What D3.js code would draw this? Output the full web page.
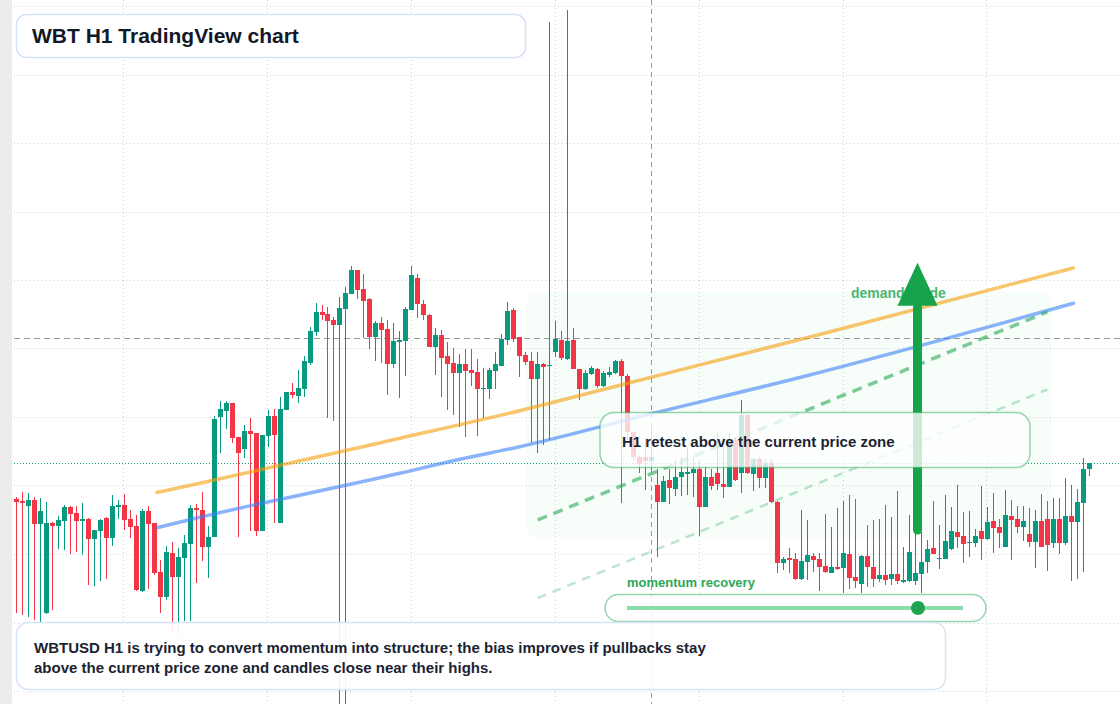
<!DOCTYPE html>
<html>
<head>
<meta charset="utf-8">
<script src="https://cdn.jsdelivr.net/npm/d3@7"></script>
<style>
  body { margin: 0; background: #fff; }
  svg { display: block; font-family: "Liberation Sans", Arial, Helvetica, sans-serif; }
</style>
</head>
<body>
<svg></svg>
<script>
// WBTUSD H1 candles (oldest first)
var opens = [
  50.13, 49.9, 49.4, 50.0, 47.6, 38.67, 47.7, 47.43, 47.93, 49.3,
  48.7, 48.03, 48.1, 46.1, 46.93, 48.2, 46.2, 49.43, 49.5, 48.1,
  47.43, 40.9, 48.9, 47.7, 42.8, 40.3, 44.7, 42.3, 44.2, 45.63,
  49.2, 49.0, 45.33, 46.33, 58.33, 58.93, 59.7, 56.3, 55.13, 56.9,
  56.7, 46.93, 56.43, 58.4, 47.73, 59.03, 60.8, 60.43, 61.13, 63.73,
  66.83, 68.8, 68.6, 68.0, 67.53, 69.1, 70.63, 73.0, 71.1, 70.1,
  66.33, 67.7, 67.1, 63.63, 65.83, 65.93, 69.0, 72.2, 69.6, 68.5,
  65.33, 66.5, 64.4, 63.7, 62.73, 63.63, 63.03, 62.8, 61.13, 61.13,
  62.93, 63.43, 65.97, 69.0, 66.27, 64.53, 63.93, 62.13, 63.63, 63.43,
  64.83, 65.97, 64.13, 65.97, 63.13, 61.13, 62.63, 63.13, 61.43, 62.53,
  62.73, 63.9, 62.4, 56.83, 54.33, 54.3, 53.93, 51.5, 49.83, 52.0,
  51.13, 52.33, 52.73, 52.73, 53.13, 49.33, 52.33, 52.73, 51.63, 51.33,
  56.0, 52.67, 58.5, 52.6, 54.13, 52.23, 53.67, 49.83, 43.67, 44.2,
  44.13, 42.07, 43.83, 44.4, 44.1, 43.4, 42.73, 43.3, 43.23, 44.6,
  42.27, 41.63, 44.4, 43.3, 42.13, 42.5, 42.07, 42.6, 41.87, 41.93,
  41.93, 42.63, 43.83, 45.2, 44.07, 44.13, 45.13, 46.8, 46.4, 45.77,
  45.73, 46.9, 46.1, 47.9, 47.3, 45.33, 48.4, 48.1, 47.33, 46.6,
  45.83, 47.9, 48.1, 45.73, 48.1, 45.73, 48.4, 47.83, 49.73, 53.1
]
var highs = [
  50.33, 50.8, 50.7, 50.33, 50.2, 49.8, 47.83, 48.4, 49.5, 49.4,
  49.4, 49.7, 48.2, 47.0, 48.1, 48.3, 50.5, 50.0, 50.6, 49.0,
  48.5, 49.1, 49.4, 47.7, 44.0, 45.4, 45.8, 45.2, 46.5, 49.5,
  49.6, 50.77, 47.4, 58.43, 59.9, 59.9, 59.7, 56.3, 57.5, 58.2,
  56.7, 56.5, 59.0, 59.1, 60.3, 60.8, 61.7, 63.0, 64.4, 67.3,
  69.7, 69.47, 69.3, 68.3, 70.3, 71.3, 73.43, 73.0, 72.6, 70.2,
  67.9, 68.3, 68.0, 67.7, 66.9, 69.3, 73.4, 72.6, 70.0, 68.6,
  67.2, 67.0, 65.8, 65.23, 64.6, 65.1, 65.1, 64.1, 63.2, 63.23,
  64.8, 66.57, 69.8, 69.2, 66.3, 64.83, 64.77, 64.83, 63.73, 97.8,
  67.87, 66.87, 99.0, 67.23, 63.13, 63.0, 63.4, 63.2, 62.9, 63.33,
  64.0, 64.1, 62.6, 56.9, 54.5, 56.2, 57.2, 53.1, 52.4, 53.1,
  54.0, 54.3, 55.3, 54.33, 54.0, 53.3, 53.13, 56.9, 56.33, 56.7,
  56.33, 60.0, 58.6, 54.2, 54.33, 54.13, 54.13, 49.9, 44.33, 45.23,
  44.7, 49.0, 48.0, 44.67, 44.67, 48.6, 47.33, 49.2, 49.93, 50.53,
  50.07, 44.5, 47.5, 48.0, 48.1, 49.47, 48.33, 50.87, 45.33, 48.5,
  46.87, 46.83, 46.0, 49.87, 47.5, 50.53, 49.33, 51.5, 48.83, 48.9,
  47.1, 51.43, 49.33, 50.73, 48.1, 51.0, 50.0, 49.4, 49.4, 49.23,
  49.0, 50.6, 49.9, 50.17, 50.17, 52.2, 51.5, 51.1, 54.2, 53.7
]
var lows = [
  38.67, 38.5, 38.33, 38.0, 37.83, 38.6, 39.0, 45.1, 45.0, 44.6,
  44.77, 44.5, 41.5, 41.4, 41.9, 42.1, 45.4, 48.1, 47.0, 46.2,
  40.9, 40.8, 41.1, 42.5, 38.7, 40.0, 36.8, 36.5, 37.9, 37.9,
  41.73, 43.9, 42.23, 46.3, 54.73, 57.13, 55.73, 46.33, 54.23, 46.93,
  46.43, 46.9, 55.33, 47.67, 47.7, 59.03, 60.23, 59.73, 60.33, 63.53,
  66.43, 68.0, 58.23, 57.93, 29.6, 29.6, 70.63, 70.1, 66.23, 65.13,
  63.9, 63.73, 60.53, 63.17, 60.2, 62.4, 69.0, 68.2, 68.0, 65.3,
  62.5, 60.33, 59.0, 58.5, 57.33, 56.33, 61.43, 56.43, 58.2, 60.07,
  61.07, 63.4, 65.47, 65.83, 62.33, 63.5, 55.73, 54.67, 55.5, 56.0,
  64.3, 64.0, 64.0, 63.1, 60.0, 61.0, 62.5, 61.2, 61.3, 62.3,
  62.6, 49.7, 56.0, 54.0, 52.7, 51.0, 53.0, 44.33, 49.8, 49.6,
  50.4, 50.4, 50.5, 50.33, 46.43, 49.3, 51.0, 51.0, 50.2, 51.3,
  51.9, 50.7, 52.6, 50.93, 51.2, 51.2, 49.7, 42.67, 43.0, 42.67,
  42.0, 42.0, 42.0, 42.83, 40.93, 42.67, 42.7, 43.0, 40.67, 41.07,
  41.17, 40.67, 41.33, 41.33, 41.83, 41.5, 41.5, 41.6, 41.67, 41.83,
  41.5, 40.67, 42.67, 44.6, 43.13, 44.1, 45.0, 45.17, 43.73, 44.33,
  45.33, 44.0, 46.0, 44.73, 45.23, 45.3, 44.0, 46.67, 45.93, 45.3,
  43.23, 45.3, 42.93, 45.23, 44.57, 45.47, 41.93, 42.07, 42.83, 52.4
]
var closes = [
  49.83, 49.83, 50.0, 47.6, 48.9, 47.67, 47.43, 48.0, 49.3, 48.6,
  47.93, 48.1, 46.1, 47.0, 48.0, 46.2, 49.4, 49.47, 48.0, 47.3,
  41.0, 48.9, 47.6, 42.7, 40.3, 44.8, 42.3, 44.3, 45.7, 49.2,
  48.97, 45.33, 46.3, 58.1, 59.1, 59.7, 56.23, 54.73, 56.9, 56.63,
  46.93, 56.5, 58.4, 56.53, 59.1, 60.8, 60.53, 61.2, 63.9, 66.9,
  68.8, 68.53, 67.93, 67.53, 69.2, 70.7, 73.0, 71.03, 69.9, 66.33,
  67.7, 67.0, 63.63, 65.9, 66.0, 69.1, 72.5, 69.57, 68.5, 65.33,
  66.5, 64.23, 63.63, 62.73, 63.63, 62.93, 62.73, 61.13, 61.23, 63.03,
  63.63, 66.07, 68.9, 66.07, 64.43, 63.83, 62.13, 63.63, 63.33, 63.53,
  66.07, 64.23, 65.87, 63.13, 61.13, 62.73, 63.23, 61.43, 62.73, 62.83,
  63.93, 62.4, 56.8, 54.27, 53.57, 53.93, 54.27, 49.83, 51.9, 51.23,
  52.33, 52.8, 52.8, 53.13, 49.33, 52.33, 51.4, 51.63, 51.33, 55.83,
  52.0, 58.5, 52.67, 54.13, 52.23, 53.67, 49.83, 43.67, 44.13, 44.1,
  42.07, 43.87, 44.5, 44.0, 43.33, 42.83, 43.3, 43.1, 44.67, 42.23,
  41.93, 44.4, 43.3, 42.07, 42.5, 41.97, 42.6, 41.87, 42.0, 44.8,
  42.67, 43.77, 45.07, 44.63, 44.23, 45.9, 46.9, 46.3, 45.6, 45.83,
  46.4, 46.1, 47.8, 47.23, 46.73, 48.5, 48.0, 47.33, 47.9, 45.83,
  47.9, 45.33, 45.53, 48.1, 45.73, 48.4, 47.83, 49.8, 53.1, 53.67
]

// overlay lines (bar index, price)
var slowLineIdx = [23.55, 30.7, 64.05, 84.05, 100.9, 135.05, 176.4]
var slowLineVal = [50.75, 51.67, 56.17, 58.93, 61.5, 66.7, 73.2]
var fastLineIdx = [23.55, 30.7, 64.05, 73.5, 84.05, 104.05, 132.4, 176.4]
var fastLineVal = [47.23, 48.27, 52.67, 54.0, 55.33, 58.33, 62.5, 69.67]
var channelIdx = [87.05, 172.05]
var channelTop = [48.0, 68.8]
var channelLow = [40.2, 61.05]

// grid, levels, zone
var gridPrices = [99.4, 92.55, 85.7, 78.85, 72.0, 65.15, 58.3, 51.45, 44.6, 37.75, 30.9]
var dayStarts = [17.9, 41.9, 65.9, 89.9, 113.9, 137.9, 161.9]
var lastPrice = 53.7
var crossPrice = 66.2
var crossIdx = 105.88
var zoneIdx = [85.05, 172.7]
var zonePrice = [46.15, 70.8]
var arrowIdx = 150.4
var arrowFrom = 47.0
var arrowTo = 73.73
var momentum = 0.866

var W = 1120, H = 704
var green = "#089981", red = "#f23645"

var svg = d3.select("svg")
    .attr("width", W)
    .attr("height", H)

var x = d3.scaleLinear().domain([0, closes.length - 1]).range([15.7, 1089])
var y = d3.scaleLinear().domain([30, 100]).range([700, 0])

svg.append("rect").attr("width", W).attr("height", H).attr("fill", "#fff")
svg.append("rect").attr("width", 12).attr("height", H).attr("fill", "#ececec")

// grid
var grid = svg.append("g").attr("stroke", "#cfd2d6").attr("stroke-dasharray", "1 3")
grid.selectAll(".h").data(gridPrices).enter().append("line")
    .attr("x1", 14).attr("x2", W)
    .attr("y1", d => Math.round(y(d)) + 0.5).attr("y2", d => Math.round(y(d)) + 0.5)
grid.selectAll(".v").data(dayStarts).enter().append("line")
    .attr("y1", 0).attr("y2", H)
    .attr("x1", d => Math.round(x(d)) + 0.5).attr("x2", d => Math.round(x(d)) + 0.5)

// demand zone
svg.append("rect")
    .attr("x", x(zoneIdx[0])).attr("y", y(zonePrice[1]))
    .attr("width", x(zoneIdx[1]) - x(zoneIdx[0]))
    .attr("height", y(zonePrice[0]) - y(zonePrice[1]))
    .attr("rx", 14)
    .attr("fill", "#22c55e").attr("fill-opacity", 0.035)

// crosshair + last price
svg.append("line")
    .attr("x1", Math.round(x(crossIdx)) + 0.5).attr("x2", Math.round(x(crossIdx)) + 0.5)
    .attr("y1", 0).attr("y2", H)
    .attr("stroke", "#9a9a9a").attr("stroke-dasharray", "5 4")
svg.append("line")
    .attr("x1", 14).attr("x2", W)
    .attr("y1", Math.round(y(crossPrice)) + 0.5).attr("y2", Math.round(y(crossPrice)) + 0.5)
    .attr("stroke", "#9a9a9a").attr("stroke-dasharray", "6 4")
svg.append("line")
    .attr("x1", 14).attr("x2", W)
    .attr("y1", Math.round(y(lastPrice)) + 0.5).attr("y2", Math.round(y(lastPrice)) + 0.5)
    .attr("stroke", green).attr("stroke-width", 1.2).attr("stroke-dasharray", "1 2")

// candles
var candles = closes.map((c, i) => ({i: i, o: opens[i], h: highs[i], l: lows[i], c: c}))
var cg = svg.append("g").attr("shape-rendering", "crispEdges")
cg.selectAll(".wick").data(candles).enter().append("line")
    .attr("x1", d => Math.round(x(d.i)) + 0.5).attr("x2", d => Math.round(x(d.i)) + 0.5)
    .attr("y1", d => y(d.h)).attr("y2", d => y(d.l))
    .attr("stroke", d => d.c >= d.o ? green : red)
cg.selectAll(".body").data(candles).enter().append("rect")
    .attr("x", d => Math.round(x(d.i)) - 2)
    .attr("width", 5)
    .attr("y", d => y(Math.max(d.o, d.c)))
    .attr("height", d => Math.max(1.5, Math.abs(y(d.o) - y(d.c))))
    .attr("fill", d => d.c >= d.o ? green : red)

// trend lines
var lineGen = d3.line().x(d => x(d[0])).y(d => y(d[1])).curve(d3.curveMonotoneX)
svg.append("path")
    .attr("d", lineGen(slowLineIdx.map((v, k) => [v, slowLineVal[k]])))
    .attr("fill", "none").attr("stroke", "#f59e0b").attr("stroke-opacity", 0.6)
    .attr("stroke-width", 3.5).attr("stroke-linecap", "round")
svg.append("path")
    .attr("d", lineGen(fastLineIdx.map((v, k) => [v, fastLineVal[k]])))
    .attr("fill", "none").attr("stroke", "#3b82f6").attr("stroke-opacity", 0.6)
    .attr("stroke-width", 3.5).attr("stroke-linecap", "round")
svg.append("path")
    .attr("d", d3.line()(channelIdx.map((v, k) => [x(v), y(channelTop[k])])))
    .attr("fill", "none").attr("stroke", "#16a34a").attr("stroke-opacity", 0.55)
    .attr("stroke-width", 3.5).attr("stroke-dasharray", "10 7")
svg.append("path")
    .attr("d", d3.line()(channelIdx.map((v, k) => [x(v), y(channelLow[k])])))
    .attr("fill", "none").attr("stroke", "#16a34a").attr("stroke-opacity", 0.28)
    .attr("stroke-width", 2.5).attr("stroke-dasharray", "9 7")

// demand guide arrow
svg.append("text")
    .attr("x", 851).attr("y", 298)
    .attr("font-size", 14).attr("font-weight", "bold")
    .attr("fill", "#16a34a").attr("fill-opacity", 0.8)
    .text("demand guide")
var ax = x(arrowIdx)
var headBase = y(arrowTo) + 43
svg.append("line")
    .attr("x1", ax).attr("x2", ax)
    .attr("y1", y(arrowFrom)).attr("y2", headBase + 2)
    .attr("stroke", "#16a34a").attr("stroke-width", 9).attr("stroke-linecap", "round")
svg.append("path")
    .attr("d", `M${ax - 20},${headBase} L${ax + 20},${headBase} L${ax},${y(arrowTo)} Z`)
    .attr("fill", "#16a34a")

// retest callout
svg.append("rect")
    .attr("x", 600).attr("y", 412.5).attr("width", 430).attr("height", 55).attr("rx", 14)
    .attr("fill", "#fff").attr("fill-opacity", 0.78)
    .attr("stroke", "#16a34a").attr("stroke-opacity", 0.45).attr("stroke-width", 1.5)
svg.append("text")
    .attr("x", 622).attr("y", 447)
    .attr("font-size", 15).attr("font-weight", "bold").attr("fill", "#1b2331")
    .text("H1 retest above the current price zone")

// momentum widget
svg.append("text")
    .attr("x", 627).attr("y", 587)
    .attr("font-size", 13).attr("font-weight", "bold").attr("fill", "#2aa85a")
    .text("momentum recovery")
svg.append("rect")
    .attr("x", 605).attr("y", 594.5).attr("width", 381).attr("height", 27).attr("rx", 13.5)
    .attr("fill", "#fff").attr("fill-opacity", 0.85)
    .attr("stroke", "#16a34a").attr("stroke-opacity", 0.45).attr("stroke-width", 1.5)
var track = d3.scaleLinear().domain([0, 1]).range([627, 963])
svg.append("line")
    .attr("x1", track(0)).attr("x2", track(1)).attr("y1", 608).attr("y2", 608)
    .attr("stroke", "#22c55e").attr("stroke-opacity", 0.55).attr("stroke-width", 4)
svg.append("circle")
    .attr("cx", track(momentum)).attr("cy", 608).attr("r", 7)
    .attr("fill", "#22a34f")

// note box
svg.append("rect")
    .attr("x", 16.5).attr("y", 622.5).attr("width", 929).attr("height", 67).attr("rx", 12)
    .attr("fill", "#fff").attr("fill-opacity", 0.9)
    .attr("stroke", "#d5e3f6").attr("stroke-width", 1.5)
var note = svg.append("text")
    .attr("font-size", 15).attr("font-weight", "bold").attr("fill", "#1b2331")
note.append("tspan").attr("x", 34).attr("y", 653)
    .text("WBTUSD H1 is trying to convert momentum into structure; the bias improves if pullbacks stay")
note.append("tspan").attr("x", 34).attr("y", 673)
    .text("above the current price zone and candles close near their highs.")

// title
svg.append("rect")
    .attr("x", 16.5).attr("y", 14.5).attr("width", 509).attr("height", 43).attr("rx", 10)
    .attr("fill", "#fff")
    .attr("stroke", "#d5e3f6").attr("stroke-width", 1.5)
svg.append("text")
    .attr("x", 32).attr("y", 43)
    .attr("font-size", 21).attr("font-weight", "bold").attr("fill", "#111827")
    .text("WBT H1 TradingView chart")
</script>
</body>
</html>
